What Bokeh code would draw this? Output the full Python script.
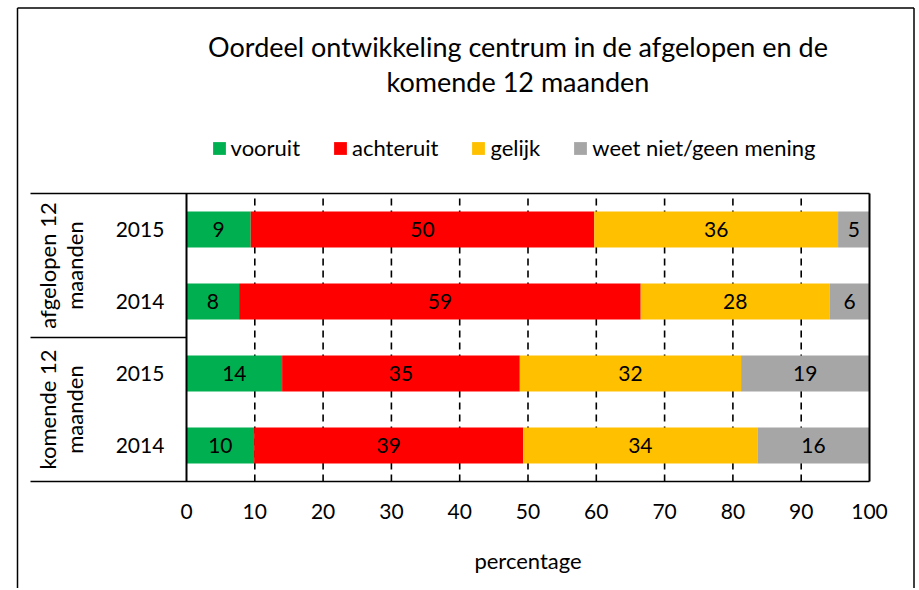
import math
from bokeh.plotting import figure
from bokeh.models import ColumnDataSource, Range1d, FixedTicker, Legend, LegendItem, Label
from bokeh.core.properties import value
from bokeh.embed import file_html
from bokeh.resources import INLINE

# ---------------- data ----------------
groups = ["afgelopen 12\nmaanden", "komende 12\nmaanden"]
years = ["2015", "2014"]
series = ["vooruit", "achteruit", "gelijk", "weet niet/geen mening"]
series_keys = ["vooruit", "achteruit", "gelijk", "weet_niet"]
colors = ["#00B050", "#FF0000", "#FFC000", "#A6A6A6"]
# rows top to bottom: afgelopen 2015, afgelopen 2014, komende 2015, komende 2014
vooruit = [9.4, 7.7, 14.0, 9.9]
achteruit = [50.3, 58.8, 34.8, 39.4]
gelijk = [35.7, 27.7, 32.4, 34.3]
weet_niet = [4.6, 5.8, 18.8, 16.4]
x_ticks = [0, 10, 20, 30, 40, 50, 60, 70, 80, 90, 100]
title_lines = ["Oordeel ontwikkeling centrum in de afgelopen en de", "komende 12 maanden"]
x_label = "percentage"

FONT = "Lato"
W, H = 916, 588
PX = 6.83     # pixels per percent
ROW = 72.0    # pixels per row
X0, Y0 = 186.0, 481.0  # canvas position of value 0 / bottom of bars


def fx(px):
    return (px - X0) / PX


def fy(py):
    return (Y0 - py) / ROW


n = len(vooruit)
ys = [n - 0.5 - i for i in range(n)]
row_years = [yr for g in groups for yr in years]

p = figure(width=W, height=H, output_backend="svg", toolbar_location=None,
           x_range=Range1d(fx(0), fx(W)), y_range=Range1d(fy(H), fy(0)),
           min_border=0, min_border_left=0, min_border_right=0,
           min_border_top=0, min_border_bottom=0)
p.outline_line_color = None
p.background_fill_color = "white"
p.border_fill_color = "white"
p.xgrid.visible = False
p.ygrid.visible = False
p.yaxis.visible = False

# dashed vertical gridlines inside the bar area
inner = x_ticks[1:-1]
p.segment(x0=inner, x1=inner, y0=[0] * len(inner), y1=[n] * len(inner),
          line_color="black", line_width=1.6, line_dash="7 5")

src = ColumnDataSource(dict(y=ys, vooruit=vooruit, achteruit=achteruit,
                            gelijk=gelijk, weet_niet=weet_niet))
rends = p.hbar_stack(series_keys, y="y", height=0.5, color=colors,
                     line_color=None, source=src)

# value labels
cols = [vooruit, achteruit, gelijk, weet_niet]
lx, ly, lt = [], [], []
for i in range(n):
    cum = 0.0
    for c in cols:
        lx.append(cum + c[i] / 2)
        ly.append(ys[i])
        lt.append(str(int(round(c[i]))))
        cum += c[i]
p.text(x=lx, y=ly, text=lt, text_align="center", text_baseline="middle",
       text_font=value(FONT), text_font_size="21px", text_color="black")

# category labels
p.text(x=[fx(139.5)] * n, y=ys, text=row_years, text_align="center",
       text_baseline="middle", text_font=value(FONT), text_font_size="21px",
       text_color="black")
gy = [(ys[2 * k] + ys[2 * k + 1]) / 2 for k in range(len(groups))]
p.text(x=[fx(60)] * len(groups), y=gy, text=groups, angle=math.pi / 2,
       text_align="center", text_baseline="middle", text_font=value(FONT),
       text_font_size="22px", text_color="black", text_line_height=1.0)

# frame lines of the bar area and category table
left_tab = fx(30)
p.segment(x0=[left_tab] * 3, x1=[x_ticks[-1], x_ticks[0], x_ticks[-1]],
          y0=[n, n / 2, 0], y1=[n, n / 2, 0], line_color="black", line_width=1.5)
p.segment(x0=[x_ticks[0], x_ticks[-1]], x1=[x_ticks[0], x_ticks[-1]],
          y0=[0, 0], y1=[n, n], line_color="black", line_width=2)

# outer chart border
p.segment(x0=[fx(17), fx(17), fx(913.5)], x1=[fx(17), fx(913.5), fx(913.5)],
          y0=[fy(600), fy(7.5), fy(7.5)], y1=[fy(7.5), fy(7.5), fy(600)],
          line_color="black", line_width=1.5)

# title
for txt, py in zip(title_lines, [46, 81]):
    p.add_layout(Label(x=fx(517.5), y=fy(py), text=txt, text_align="center",
                       text_baseline="middle", text_font=FONT,
                       text_font_size="27px", text_color="black"))

# x axis
ax = p.xaxis[0]
ax.fixed_location = 0
ax.bounds = (x_ticks[0], x_ticks[-1])
ax.ticker = FixedTicker(ticks=x_ticks)
ax.axis_line_color = None
ax.major_tick_line_color = None
ax.minor_tick_line_color = None
ax.major_tick_out = 0
ax.major_tick_in = 0
ax.major_label_standoff = 22
ax.major_label_text_font = FONT
ax.major_label_text_font_size = "21px"
ax.major_label_text_color = "black"
ax.axis_label = x_label
ax.axis_label_text_font = FONT
ax.axis_label_text_font_size = "22px"
ax.axis_label_text_font_style = "normal"
ax.axis_label_text_color = "black"
ax.axis_label_standoff = 25

# legend
legend = Legend(items=[LegendItem(label=s, renderers=[r]) for s, r in zip(series, rends)],
                orientation="horizontal", location=(210.6, H - 161),
                glyph_width=16, glyph_height=16, label_standoff=4, spacing=32,
                padding=0, margin=0, border_line_color=None, background_fill_alpha=0,
                label_text_font=FONT, label_text_font_size="22px",
                label_text_color="black", label_height=16)
p.add_layout(legend)

open("out.html", "w").write(file_html(p, INLINE))
